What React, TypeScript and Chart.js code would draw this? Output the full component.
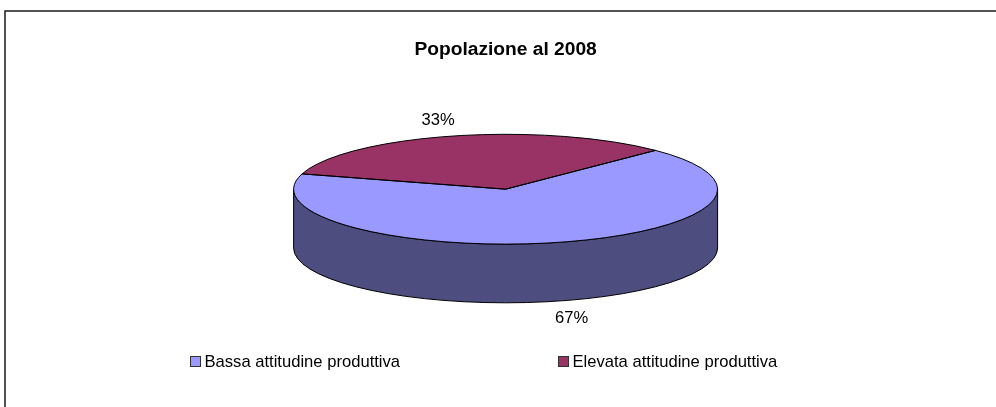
import React, { useEffect, useRef } from "react";
import { Chart, registerables } from "chart.js";

Chart.register(...registerables);

const chartTitle = "Popolazione al 2008";
const categories = ["Bassa attitudine produttiva", "Elevata attitudine produttiva"];
const shares = [67, 33];
const topColors = ["#9999FF", "#993366"];
const sideColors = ["#4D4D80", "#4D1A33"];

const FONT = '"Liberation Sans", Arial, sans-serif';
const RX = 212;
const DEPTH = 58.7;

function sideSpans(start: number, end: number): [number, number][] {
  const out: [number, number][] = [];
  for (const k of [-1, 0, 1]) {
    const a = Math.max(start, k * 2 * Math.PI);
    const b = Math.min(end, k * 2 * Math.PI + Math.PI);
    if (b > a) out.push([a, b]);
  }
  return out;
}

const pie3d = {
  id: "pie3d",
  beforeDraw(chart: any) {
    const ctx = chart.ctx;
    ctx.save();
    ctx.fillStyle = "#FFFFFF";
    ctx.fillRect(0, 0, chart.width, chart.height);
    ctx.strokeStyle = "#1a1a1a";
    ctx.lineWidth = 1.5;
    ctx.beginPath();
    ctx.moveTo(5, chart.height);
    ctx.lineTo(5, 11);
    ctx.lineTo(chart.width, 11);
    ctx.stroke();
    ctx.restore();
  },
  beforeDatasetsDraw(chart: any) {
    const ctx = chart.ctx;
    const arcs = chart.getDatasetMeta(0).data;
    const { x, y, outerRadius: ry } = arcs[0];
    ctx.save();
    ctx.strokeStyle = "#000000";
    ctx.lineWidth = 1;
    arcs.forEach((arc: any, i: number) => {
      for (const [a, b] of sideSpans(arc.startAngle, arc.endAngle)) {
        ctx.beginPath();
        ctx.ellipse(x, y, RX, ry, 0, a, b);
        ctx.ellipse(x, y + DEPTH, RX, ry, 0, b, a, true);
        ctx.closePath();
        ctx.fillStyle = sideColors[i];
        ctx.fill();
        ctx.stroke();
      }
    });
    ctx.restore();
    ctx.save();
    ctx.translate(x, y);
    ctx.scale(RX / ry, 1);
    ctx.translate(-x, -y);
  },
  afterDatasetsDraw(chart: any) {
    const ctx = chart.ctx;
    ctx.restore();
    const arcs = chart.getDatasetMeta(0).data;
    ctx.save();
    ctx.strokeStyle = "#000000";
    ctx.lineWidth = 1;
    ctx.lineJoin = "round";
    arcs.forEach((arc: any) => {
      ctx.beginPath();
      ctx.moveTo(arc.x, arc.y);
      ctx.ellipse(arc.x, arc.y, RX, arc.outerRadius, 0, arc.startAngle, arc.endAngle);
      ctx.closePath();
      ctx.stroke();
    });
    ctx.restore();
  },
  afterDraw(chart: any) {
    const ctx = chart.ctx;
    const arcs = chart.getDatasetMeta(0).data;
    const { x } = arcs[0];
    ctx.save();
    ctx.fillStyle = "#000000";
    ctx.textBaseline = "alphabetic";
    ctx.textAlign = "center";
    ctx.font = `bold 19.2px ${FONT}`;
    ctx.fillText(chartTitle, x, 55);
    ctx.font = `16.6px ${FONT}`;
    ctx.fillText(`${shares[0]}%`, x + 66, 322.5);
    ctx.fillText(`${shares[1]}%`, x - 67.5, 125);
    ctx.textAlign = "left";
    const swatchX = [190.5, 558.5];
    categories.forEach((label, i) => {
      ctx.fillStyle = topColors[i];
      ctx.strokeStyle = "#333333";
      ctx.lineWidth = 1;
      ctx.fillRect(swatchX[i], 356.5, 10, 10);
      ctx.strokeRect(swatchX[i], 356.5, 10, 10);
      ctx.fillStyle = "#000000";
      ctx.fillText(label, swatchX[i] + 14, 366.5);
    });
    ctx.restore();
  },
};

export default function App() {
  const ref = useRef<HTMLCanvasElement>(null);
  useEffect(() => {
    const chart = new Chart(ref.current!, {
      type: "pie",
      data: {
        labels: categories,
        datasets: [{ data: shares, backgroundColor: topColors, borderWidth: 0 }],
      },
      options: {
        responsive: false,
        animation: false,
        events: [],
        rotation: 45,
        layout: { padding: { left: 293.6, right: 278.4, top: 134.3, bottom: 162.9 } },
        plugins: { legend: { display: false }, title: { display: false }, tooltip: { enabled: false } },
      },
      plugins: [pie3d],
    });
    return () => chart.destroy();
  }, []);
  return (
    <canvas
      ref={ref}
      width={996}
      height={407}
      style={{ position: "fixed", left: 0, top: 0, width: 996, height: 407 }}
    />
  );
}
